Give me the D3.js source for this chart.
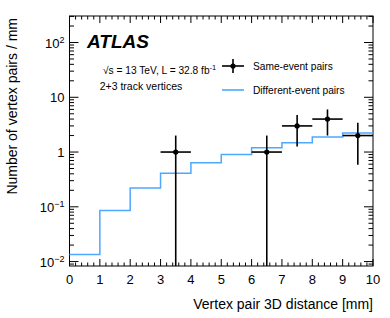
<!DOCTYPE html>
<html>
  <head>
    <meta charset="utf-8">
    <style>
      body { margin: 0; background: #fff; font-family: "Liberation Sans", Arial, sans-serif; }
    </style>
  </head>
  <body>
    <script src="https://d3js.org/d3.v7.min.js"></script>
    <script>
      // data
      var binEdges = [0, 1, 2, 3, 4, 5, 6, 7, 8, 9, 10];
      var diffPairs = [0.0135, 0.086, 0.22, 0.41, 0.64, 0.9, 1.2, 1.48, 1.88, 2.22];
      var samePos = [3.5, 6.5, 7.5, 8.5, 9.5];
      var sameVal = [1, 1, 3, 4, 2];
      var xTicks = [0, 1, 2, 3, 4, 5, 6, 7, 8, 9, 10];
      var yTicks = [0.01, 0.1, 1, 10, 100];
      var yTickLabels = ["10", "10", "1", "10", "10"];
      var yTickExp = ["\u22122", "\u22121", "", "", "2"];

      var W = 390, H = 318;
      var margin = {top: 16, right: 17, bottom: 52, left: 69.5};
      var width = W - margin.left - margin.right,
          height = H - margin.top - margin.bottom;

      var svg = d3.select("body").append("svg")
          .attr("width", W).attr("height", H);
      var g = svg.append("g")
          .attr("transform", "translate(" + margin.left + "," + margin.top + ")");

      var x = d3.scaleLinear().domain([0, 10]).range([0, width]);
      var y = d3.scaleLog().domain([0.0083, 305]).range([height, 0]);

      // minor ticks
      var xMinor = d3.range(0, 10.001, 0.2).filter(function(d){ return Math.abs(d - Math.round(d)) > 1e-6; });
      var yMinor = [];
      [-3, -2, -1, 0, 1, 2].forEach(function(e){
        for (var k = 2; k <= 9; k++) {
          var v = k * Math.pow(10, e);
          if (v >= y.domain()[0] && v <= y.domain()[1]) yMinor.push(v);
        }
      });

      function tick(x1, y1, x2, y2) {
        g.append("line").attr("x1", x1).attr("y1", y1).attr("x2", x2).attr("y2", y2)
          .attr("stroke", "#000").attr("stroke-width", 1);
      }
      xTicks.forEach(function(d){
        tick(x(d), height, x(d), height - 7);
        tick(x(d), 0, x(d), 7);
      });
      xMinor.forEach(function(d){
        tick(x(d), height, x(d), height - 3.5);
        tick(x(d), 0, x(d), 3.5);
      });
      yTicks.forEach(function(d){
        tick(0, y(d), 9, y(d));
        tick(width, y(d), width - 9, y(d));
      });
      yMinor.forEach(function(d){
        tick(0, y(d), 4.5, y(d));
        tick(width, y(d), width - 4.5, y(d));
      });

      // frame
      g.append("rect").attr("width", width).attr("height", height)
        .attr("fill", "none").attr("stroke", "#000").attr("stroke-width", 1);

      // tick labels
      g.selectAll(".xl").data(xTicks).enter().append("text")
        .attr("x", function(d){ return x(d); })
        .attr("y", height + 18)
        .attr("text-anchor", "middle")
        .style("font-size", "13px")
        .text(function(d){ return d; });

      var yl = g.selectAll(".yl").data(yTicks).enter().append("text")
        .attr("x", -5)
        .attr("y", function(d){ return y(d) + 5; })
        .attr("text-anchor", "end")
        .style("font-size", "13px");
      yl.append("tspan").text(function(d, i){ return yTickLabels[i]; });
      yl.append("tspan").attr("dy", -5).style("font-size", "9px")
        .text(function(d, i){ return yTickExp[i]; });

      // blue step histogram
      var pts = [];
      diffPairs.forEach(function(v, i){
        pts.push([x(binEdges[i]), y(v)]);
        pts.push([x(binEdges[i + 1]), y(v)]);
      });
      g.append("path")
        .attr("d", d3.line()(pts))
        .attr("fill", "none").attr("stroke", "#4ea8ff").attr("stroke-width", 1.5);

      // same-event points with sqrt(N) errors
      samePos.forEach(function(p, i){
        var v = sameVal[i], e = Math.sqrt(v);
        var lo = v - e > 0 ? y(v - e) : height;
        g.append("line").attr("x1", x(p)).attr("x2", x(p))
          .attr("y1", y(v + e)).attr("y2", lo)
          .attr("stroke", "#000").attr("stroke-width", 1.6);
        g.append("line").attr("x1", x(p - 0.5)).attr("x2", x(p + 0.5))
          .attr("y1", y(v)).attr("y2", y(v))
          .attr("stroke", "#000").attr("stroke-width", 1.6);
        g.append("circle").attr("cx", x(p)).attr("cy", y(v)).attr("r", 2.6).attr("fill", "#000");
      });

      // axis titles
      svg.append("text")
        .attr("x", margin.left + width).attr("y", 309)
        .attr("text-anchor", "end").style("font-size", "14px")
        .text("Vertex pair 3D distance [mm]");
      svg.append("text")
        .attr("transform", "translate(17," + (margin.top + 2) + ") rotate(-90)")
        .attr("text-anchor", "end").style("font-size", "14px")
        .text("Number of vertex pairs / mm");

      // ATLAS label
      svg.append("text").attr("x", 87).attr("y", 48)
        .style("font-size", "19px").style("font-weight", "bold").style("font-style", "italic")
        .text("ATLAS");
      var t1 = svg.append("text").attr("x", 103).attr("y", 74).style("font-size", "10.2px");
      t1.append("tspan").text("\u221As = 13 TeV, L = 32.8 fb");
      t1.append("tspan").attr("dy", -4).style("font-size", "7.5px").text("-1");
      svg.append("text").attr("x", 141).attr("y", 90).attr("text-anchor", "middle")
        .style("font-size", "10.5px").text("2+3 track vertices");

      // legend
      var lg = svg.append("g");
      lg.append("line").attr("x1", 222).attr("x2", 244).attr("y1", 66).attr("y2", 66)
        .attr("stroke", "#000").attr("stroke-width", 1.6);
      lg.append("line").attr("x1", 233).attr("x2", 233).attr("y1", 59).attr("y2", 73)
        .attr("stroke", "#000").attr("stroke-width", 1.6);
      lg.append("circle").attr("cx", 233).attr("cy", 66).attr("r", 2.6).attr("fill", "#000");
      lg.append("text").attr("x", 253).attr("y", 70).style("font-size", "10.2px").text("Same-event pairs");
      lg.append("line").attr("x1", 222).attr("x2", 244).attr("y1", 90).attr("y2", 90)
        .attr("stroke", "#4ea8ff").attr("stroke-width", 1.6);
      lg.append("text").attr("x", 253).attr("y", 94).style("font-size", "10.2px").text("Different-event pairs");
    </script>
  </body>
</html>
